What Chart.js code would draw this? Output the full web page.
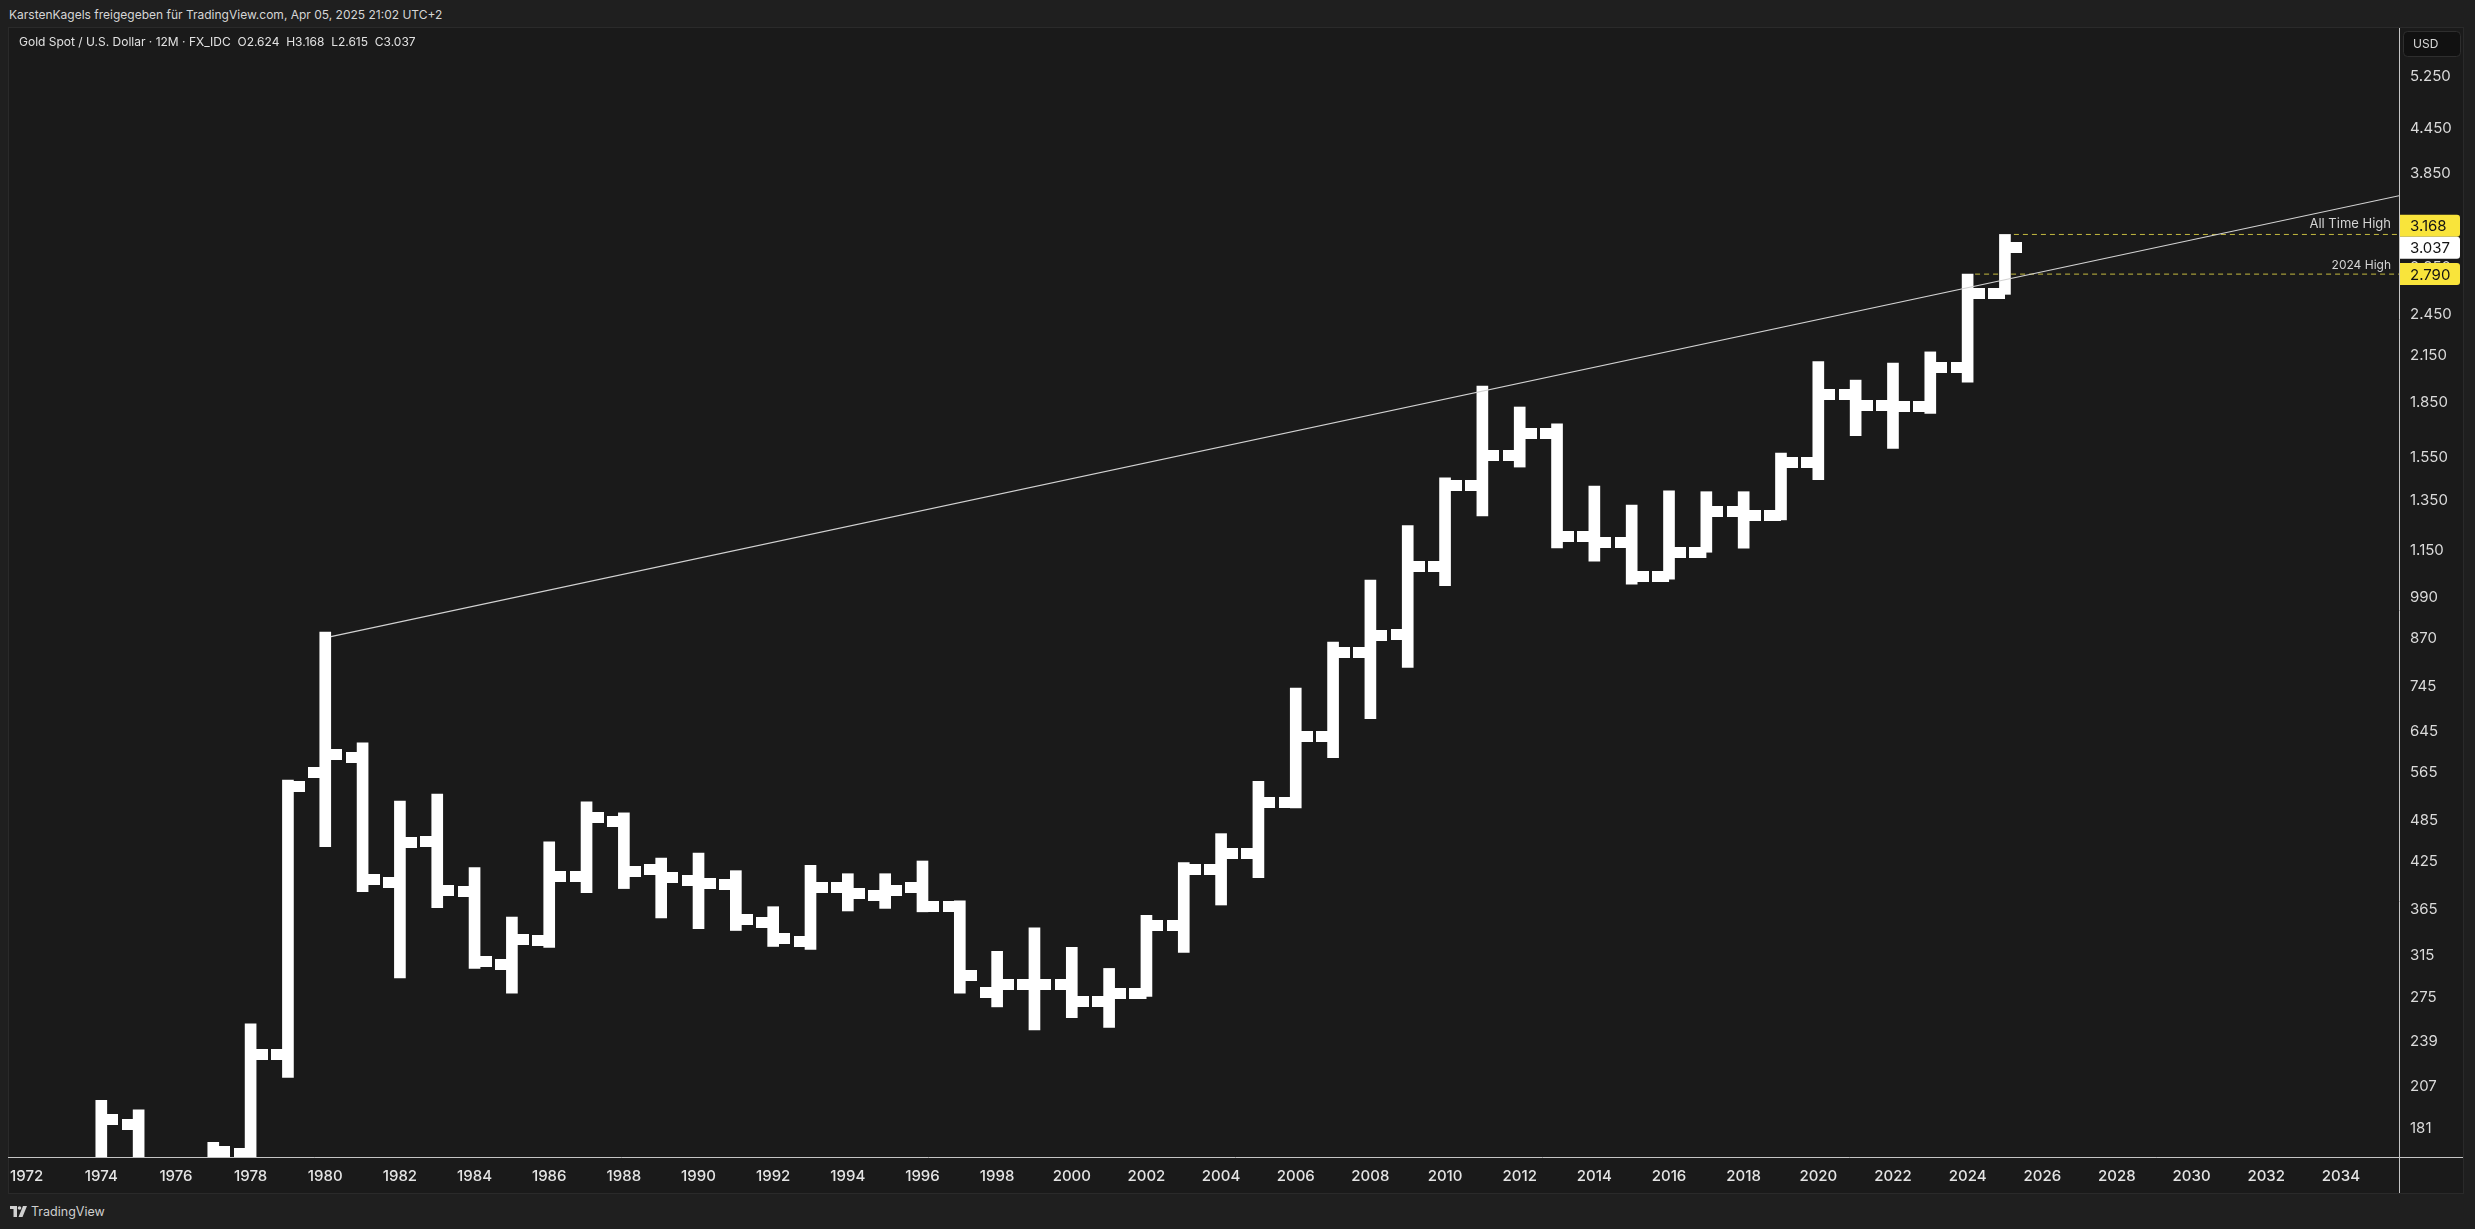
<!DOCTYPE html>
<html><head><meta charset="utf-8">
<script src="https://cdn.jsdelivr.net/npm/chart.js@4.4.1/dist/chart.umd.min.js"></script>
<style>
html,body{margin:0;padding:0;background:#1f1f1f;width:2475px;height:1229px;overflow:hidden;font-family:Inter,"Noto Sans",sans-serif;}
#panel{position:absolute;left:8px;top:27px;width:2456px;height:1167px;background:#1a1a1a;border:1px solid #2a2a2a;box-sizing:border-box;}
#hdr{position:absolute;left:9px;top:7px;font-size:12px;color:#d6d6d6;white-space:nowrap;}
#legend{position:absolute;left:19px;top:34px;font-size:12px;color:#e2e2e2;white-space:nowrap;z-index:3;}
#wrap{position:absolute;left:0;top:0;width:2475px;height:1229px;z-index:2;}
#foot{position:absolute;left:10px;top:1204px;font-size:12.5px;color:#d0d0d0;display:flex;align-items:center;gap:4px;white-space:nowrap;}
</style></head>
<body>
<div id="panel"></div>
<div id="hdr">KarstenKagels freigegeben für TradingView.com, Apr 05, 2025 21:02 UTC+2</div>
<div id="legend">Gold Spot / U.S. Dollar · 12M · FX_IDC&nbsp;&nbsp;O2.624&nbsp;&nbsp;H3.168&nbsp;&nbsp;L2.615&nbsp;&nbsp;C3.037</div>
<div id="wrap"><canvas id="c" width="2475" height="1229"></canvas></div>
<div id="foot"><svg width="17" height="11" viewBox="0 0 17 11"><path d="M0 0h7v11H3.5V3H0z" fill="#d0d0d0"/><circle cx="9.5" cy="2" r="1.8" fill="#d0d0d0"/><path d="M13 0h4l-4.5 11H8.5z" fill="#d0d0d0"/></svg><span>TradingView</span></div>
<script>
const years  = [1974,1975,1976,1977,1978,1979,1980,1981,1982,1983,1984,1985,1986,1987,1988,1989,1990,1991,1992,1993,1994,1995,1996,1997,1998,1999,2000,2001,2002,2003,2004,2005,2006,2007,2008,2009,2010,2011,2012,2013,2014,2015,2016,2017,2018,2019,2020,2021,2022,2023,2024,2025];
const opens  = [112,183,140,134,167,229,566,593,398,453, 386,306,330,405,484,414,400,395,350,329, 391,381,391,368,280,287,287,272,279,347, 415,436,514,635,831,880,1094,1417,1561,1675, 1204,1181,1060,1145,1305,1290,1525,1899,1833,1826, 2067,2624];
const highs  = [198,192,141,173,253,552,887,622,516,528, 417,356,453,515,497,430,437,413,368,420, 409,409,426,375,319,344,323,302,358,424, 465,550,741,859,1047,1247,1453,1950,1823,1727, 1415,1332,1394,1390,1390,1573,2109,1987,2099,2175, 2790,3168];
const lows   = [112,128,103,129,165,213,446,386,293,367, 302,279,323,385,390,355,343,341,324,321, 363,366,362,279,267,248,258,250,276,318, 370,404,505,593,672,792,1029,1286,1504,1161, 1113,1034,1050,1145,1160,1270,1444,1663,1596,1786, 1974,2615];
const closes = [186,140,134,168,229,540,600,402,452,388, 309,331,406,489,412,404,396,353,332,391, 384,388,368,295,287,287,272,279,347,415, 436,514,635,831,877,1094,1417,1561,1675,1204, 1181,1060,1145,1305,1290,1525,1899,1833,1826,2067, 2624,3037];

const priceTicks = [181,207,239,275,315,365,425,485,565,645,745,870,990,1150,1350,1550,1850,2150,2450,2850,3250,3850,4450,5250];
const yearTicks  = [1972,1974,1976,1978,1980,1982,1984,1986,1988,1990,1992,1994,1996,1998,2000,2002,2004,2006,2008,2010,2012,2014,2016,2018,2020,2022,2024,2026,2028,2030,2032,2034];

const X_MIN = 1971.553, X_MAX = 2035.557;
const Y_MIN = 165.1, Y_MAX = 6136;

const trendYears  = [1980.15, X_MAX];
const trendValues = [874, 3586];
const athLevel = 3168, athFrom = 2025.24;
const high2024Level = 2790, high2024From = 2024.2;
const lastClose = 3037;

function fmt(v){ return v>=1000 ? Math.floor(v/1000)+'.'+String(v%1000).padStart(3,'0') : String(v); }

const BAR_W = 11, TICK_LEN = 11.5, TICK_H = 11;
function tickImg(side){
  const c=document.createElement('canvas');
  const W=Math.round(2*(BAR_W/2+TICK_LEN));
  c.width=W; c.height=TICK_H;
  const g=c.getContext('2d'); g.fillStyle='#ffffff';
  if(side==='open') g.fillRect(0,0,W/2,TICK_H); else g.fillRect(W/2,0,W/2,TICK_H);
  return c;
}

const FONT = 'Inter, "Noto Sans", sans-serif';

const overlay = {
  id:'overlay',
  afterDraw(chart){
    const {ctx, chartArea:a, scales:{x,y}} = chart;
    ctx.save();
    ctx.strokeStyle='#c4c4c4'; ctx.lineWidth=1;
    ctx.beginPath();
    ctx.moveTo(8, Math.round(a.bottom)+0.5); ctx.lineTo(2463, Math.round(a.bottom)+0.5);
    ctx.moveTo(Math.round(a.right)+0.5, 28); ctx.lineTo(Math.round(a.right)+0.5, 1193);
    ctx.stroke();
    ctx.fillStyle='#d4d4d4'; ctx.textAlign='right'; ctx.textBaseline='middle';
    ctx.font='13px '+FONT;
    ctx.fillText('All Time High', a.right-8, y.getPixelForValue(athLevel)-10);
    ctx.font='12px '+FONT;
    ctx.fillText('2024 High', a.right-8, y.getPixelForValue(high2024Level)-9);
    const bx=a.right+1, bw=60, bh=22;
    const yc = y.getPixelForValue(lastClose);
    const boxes=[
      {v:athLevel, c:yc-bh, fill:'#f9e43b'},
      {v:lastClose, c:yc, fill:'#ffffff'},
      {v:high2024Level, c:y.getPixelForValue(high2024Level), fill:'#f9e43b'}
    ];
    ctx.font='15px '+FONT; ctx.textAlign='left';
    boxes.forEach(b=>{
      ctx.fillStyle=b.fill;
      ctx.beginPath(); ctx.roundRect(bx, b.c-bh/2, bw, bh, [0,3,3,0]); ctx.fill();
      ctx.fillStyle='#131313';
      ctx.fillText(fmt(b.v), bx+10, b.c+1);
    });
    ctx.fillStyle='#111111'; ctx.strokeStyle='#2e2e2e';
    ctx.beginPath(); ctx.roundRect(2403.5, 31.5, 57, 25, 4); ctx.fill(); ctx.stroke();
    ctx.fillStyle='#d8d8d8'; ctx.font='12px '+FONT; ctx.textAlign='left';
    ctx.fillText('USD', 2413, 44);
    ctx.restore();
  }
};

new Chart(document.getElementById('c'), {
  data:{
    datasets:[
      {type:'line', data:[{x:trendYears[0],y:trendValues[0]},{x:trendYears[1],y:trendValues[1]}], borderColor:'#d2d2d2', borderWidth:1.2, pointRadius:0, order:0, clip:0},
      {type:'line', data:[{x:athFrom,y:athLevel},{x:X_MAX,y:athLevel}], borderColor:'rgba(226,214,70,0.85)', borderWidth:1, borderDash:[5,4], pointRadius:0, order:4, clip:0},
      {type:'line', data:[{x:high2024From,y:high2024Level},{x:X_MAX,y:high2024Level}], borderColor:'rgba(226,214,70,0.85)', borderWidth:1, borderDash:[5,4], pointRadius:0, order:4, clip:0},
      {type:'bar', data:years.map((yr,i)=>({x:yr, y:[lows[i], highs[i]]})), backgroundColor:'#ffffff', borderWidth:0, barThickness:BAR_W, borderSkipped:false, order:2, clip:0},
      {type:'scatter', data:years.map((yr,i)=>({x:yr, y:opens[i]})), pointStyle:tickImg('open'), pointRadius:3, order:1, clip:0},
      {type:'scatter', data:years.map((yr,i)=>({x:yr, y:closes[i]})), pointStyle:tickImg('close'), pointRadius:3, order:1, clip:0}
    ]
  },
  options:{
    responsive:false, animation:false, events:[],
    layout:{padding:{left:8, top:28, right:15, bottom:36}},
    plugins:{legend:{display:false}, tooltip:{enabled:false}},
    scales:{
      x:{type:'linear', min:X_MIN, max:X_MAX, offset:false,
         grid:{display:false, drawTicks:false}, border:{display:false},
         afterBuildTicks:s=>{s.ticks=yearTicks.map(v=>({value:v}));},
         afterFit:s=>{s.height=36;},
         ticks:{autoSkip:false, maxRotation:0, padding:10, color:'#e4e4e4', font:{family:FONT, size:15, weight:'500'}, callback:v=>String(v)}},
      y:{type:'logarithmic', position:'right', min:Y_MIN, max:Y_MAX,
         grid:{display:false, drawTicks:false}, border:{display:false},
         afterBuildTicks:s=>{s.ticks=priceTicks.map(v=>({value:v}));},
         afterFit:s=>{s.width=61;},
         ticks:{autoSkip:false, padding:11, color:'#dadada', font:{family:FONT, size:15}, callback:v=>fmt(v)}}
    }
  },
  plugins:[overlay]
});
</script>
</body></html>
